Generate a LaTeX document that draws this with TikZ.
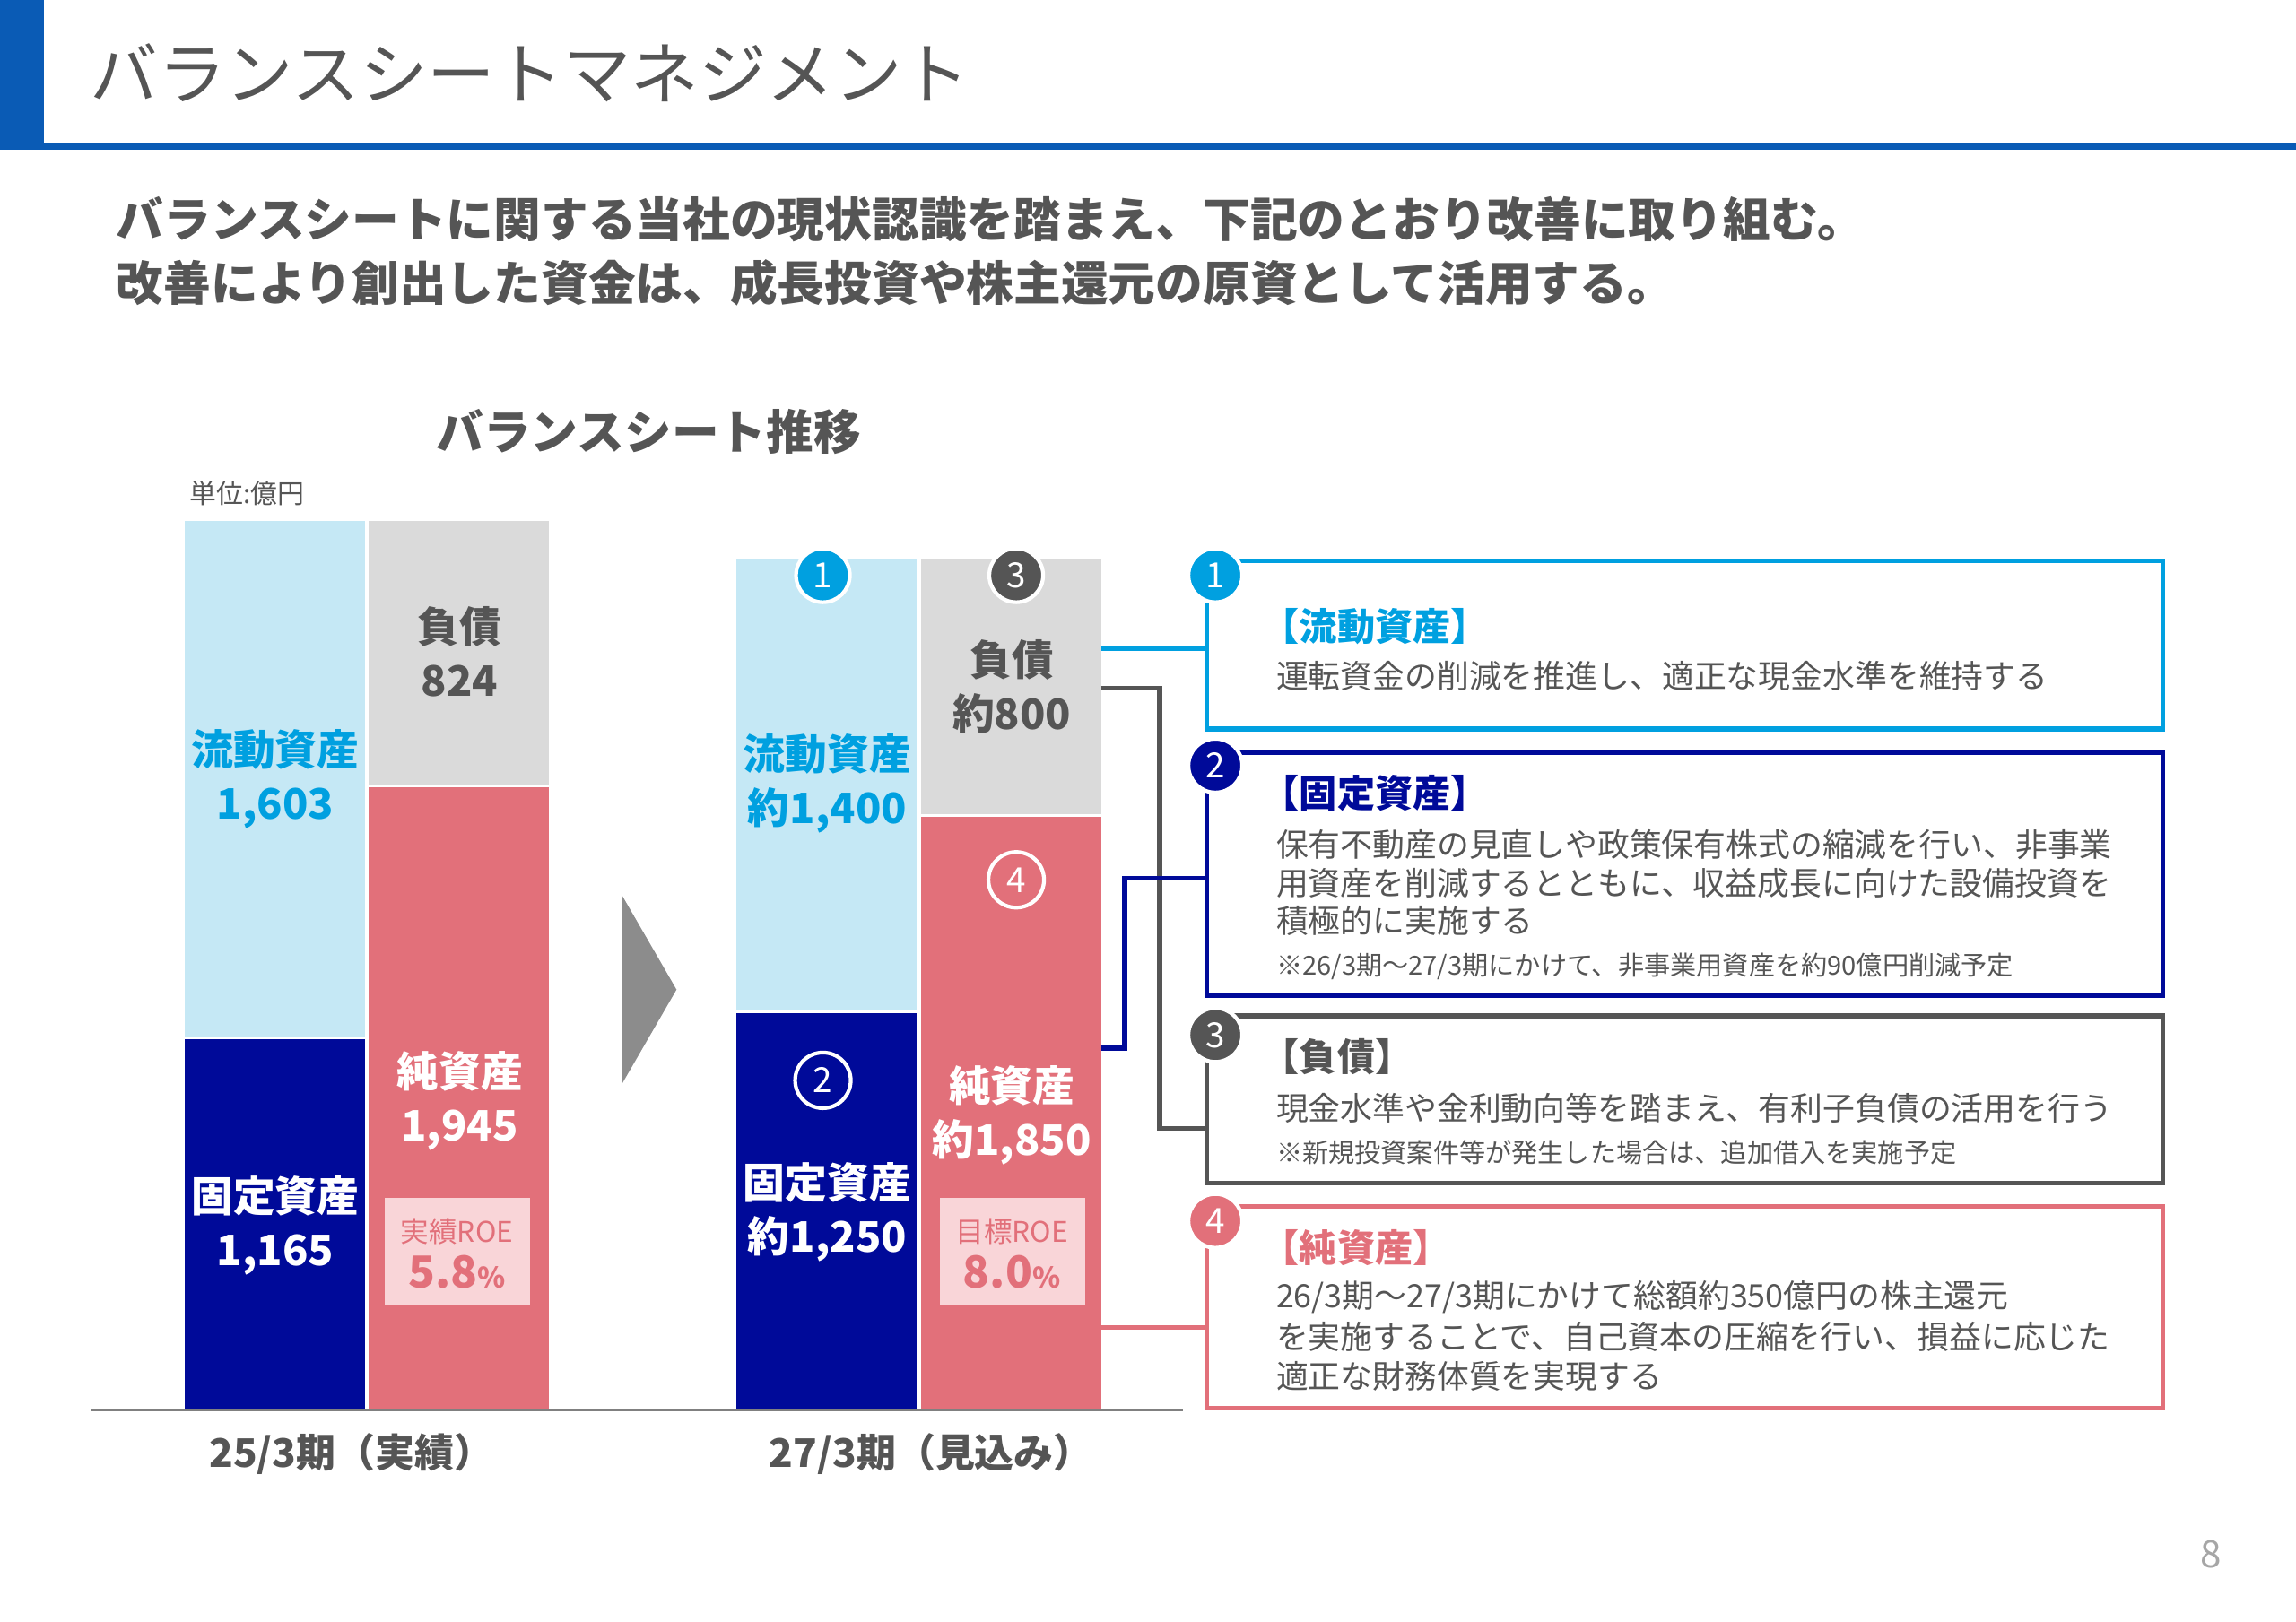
\documentclass[tikz,border=0pt]{standalone}
\usepackage{fontspec}
\setmainfont{Noto Sans CJK JP}
\usetikzlibrary{positioning}
\definecolor{cyanA}{HTML}{00A0E0}
\definecolor{lblue}{HTML}{C5E8F5}
\definecolor{navyA}{HTML}{000A99}
\definecolor{lgray}{HTML}{DADADA}
\definecolor{redA}{HTML}{E2707A}
\definecolor{pinkA}{HTML}{F9D5D8}
\definecolor{dgray}{HTML}{555555}
\definecolor{titleblue}{HTML}{0A5BB5}
\tikzset{
  barlabel/.style={font=\fontsize{13.3}{17}\selectfont\bfseries, align=center},
  boxtitle/.style={anchor=west, font=\fontsize{12}{14}\selectfont\bfseries},
  boxbody/.style={anchor=west, font=\fontsize{10.2}{12}\selectfont, text=dgray},
  boxnote/.style={anchor=west, font=\fontsize{8.3}{10}\selectfont, text=dgray},
  numfill/.style={circle, fill=#1, draw=white, line width=1.2pt, text=white, minimum size=0.6cm, inner sep=0pt, font=\fontsize{11}{12}\selectfont},
  numring/.style={circle, draw=white, line width=1.2pt, text=white, minimum size=0.62cm, inner sep=0pt, font=\fontsize{11}{12}\selectfont},
}
\begin{document}
\begin{tikzpicture}[x=0.016327cm, y=-0.016327cm]
  \useasboundingbox (0,0) rectangle (1568,1108);
  % header
  \fill[titleblue] (0,0) rectangle (30,100);
  \fill[titleblue] (0,98) rectangle (1568,102);
  \node[anchor=west, font=\fontsize{21.5}{26}\selectfont, text=dgray] (title) at (54,50) {バランスシートマネジメント};
  \node[anchor=west, font=\fontsize{15}{19}\selectfont\bfseries, text=dgray] (sub1) at (72,150) {バランスシートに関する当社の現状認識を踏まえ、下記のとおり改善に取り組む。};
  \node[anchor=west, font=\fontsize{15}{19}\selectfont\bfseries, text=dgray] (sub2) at (72,193) {改善により創出した資金は、成長投資や株主還元の原資として活用する。};
  \node[font=\fontsize{15}{18}\selectfont\bfseries, text=dgray] (charttitle) at (443,295) {バランスシート推移};
  \node[anchor=west, font=\fontsize{8.5}{10}\selectfont, text=dgray] (unit) at (122,337) {単位:億円};

  % 25/3 bars
  \fill[lblue] (126,356) rectangle (249,708);
  \fill[navyA] (126,710) rectangle (249,963);
  \fill[lgray] (252,356) rectangle (375,536);
  \fill[redA] (252,538) rectangle (375,963);
  \node[barlabel, text=cyanA] (ca1) at (188,532) {流動資産\\1,603};
  \node[barlabel, text=dgray] (li1) at (314,445) {負債\\824};
  \node[barlabel, text=white] (na1) at (314,752) {純資産\\1,945};
  \node[barlabel, text=white] (fa1) at (188,837) {固定資産\\1,165};
  \fill[pinkA] (263,818) rectangle (362,892);
  \node[text=redA, font=\fontsize{9}{10}\selectfont] (roe1) at (312,841) {実績ROE};
  \node[text=redA, font=\fontsize{14}{16}\selectfont\bfseries] (roev1) at (312,869) {5.8\fontsize{9}{10}\selectfont\%};

  % arrow
  \fill[gray!90] (425,612) -- (462,676) -- (425,740) -- cycle;

  % 27/3 bars
  \fill[lblue] (503,382) rectangle (626,690);
  \fill[navyA] (503,692) rectangle (626,963);
  \fill[lgray] (629,382) rectangle (752,556);
  \fill[redA] (629,558) rectangle (752,963);
  \node[barlabel, text=cyanA] (ca2) at (565,535) {流動資産\\約1,400};
  \node[barlabel, text=dgray] (li2) at (691,469) {負債\\約800};
  \node[barlabel, text=white] (na2) at (691,762) {純資産\\約1,850};
  \node[barlabel, text=white] (fa2) at (565,828) {固定資産\\約1,250};
  \fill[pinkA] (642,818) rectangle (741,892);
  \node[text=redA, font=\fontsize{9}{10}\selectfont] (roe2) at (691,841) {目標ROE};
  \node[text=redA, font=\fontsize{14}{16}\selectfont\bfseries] (roev2) at (691,869) {8.0\fontsize{9}{10}\selectfont\%};
  \node[numfill=cyanA] (c1) at (562,393) {1};
  \node[numfill=dgray] (c3) at (694,393) {3};
  \node[numring] (c4) at (694,601) {4};
  \node[numring] (c2) at (562,738) {2};

  \draw[gray, line width=0.8pt] (62,963) -- (808,963);
  \node[font=\fontsize{12.5}{15}\selectfont\bfseries, text=dgray] (lab1) at (240,993) {25/3期（実績）};
  \node[font=\fontsize{12.5}{15}\selectfont\bfseries, text=dgray] (lab2) at (636,993) {27/3期（見込み）};

  % boxes
  \draw[cyanA, line width=1.5pt] (824,383) rectangle (1477,498);
  \draw[navyA, line width=1.5pt] (824,514) rectangle (1477,680);
  \draw[dgray, line width=1.5pt] (824,694) rectangle (1477,808);
  \draw[redA, line width=1.5pt] (824,824) rectangle (1477,962);
  \node[numfill=cyanA] (k1) at (830,393) {1};
  \node[numfill=navyA] (k2) at (830,523) {2};
  \node[numfill=dgray] (k3) at (830,707) {3};
  \node[numfill=redA] (k4) at (830,834) {4};

  \node[boxtitle, text=cyanA] (t1) at (854,428) {【流動資産】};
  \node[boxbody] at (864,462) {運転資金の削減を推進し、適正な現金水準を維持する};
  \node[boxtitle, text=navyA] (t2) at (854,542) {【固定資産】};
  \node[boxbody] at (864,577) {保有不動産の見直しや政策保有株式の縮減を行い、非事業};
  \node[boxbody] at (864,603) {用資産を削減するとともに、収益成長に向けた設備投資を};
  \node[boxbody] at (864,629) {積極的に実施する};
  \node[boxnote] at (864,660) {※26/3期～27/3期にかけて、非事業用資産を約90億円削減予定};
  \node[boxtitle, text=dgray] (t3) at (854,722) {【負債】};
  \node[boxbody] at (864,757) {現金水準や金利動向等を踏まえ、有利子負債の活用を行う};
  \node[boxnote] at (864,787) {※新規投資案件等が発生した場合は、追加借入を実施予定};
  \node[boxtitle, text=redA] (t4) at (854,852) {【純資産】};
  \node[boxbody] at (864,886) {26/3期～27/3期にかけて総額約350億円の株主還元};
  \node[boxbody] at (864,913) {を実施することで、自己資本の圧縮を行い、損益に応じた};
  \node[boxbody] at (864,940) {適正な財務体質を実現する};

  % connectors
  \coordinate (e1) at (824,443); \coordinate (e2) at (824,600);
  \coordinate (e3) at (824,771); \coordinate (e4) at (824,907);
  \draw[cyanA, line width=1.5pt] (752,443) -- (e1);
  \draw[dgray, line width=1.5pt] (752,470) -- (792,470) |- (e3);
  \draw[navyA, line width=1.5pt] (752,716) -- (768,716) |- (e2);
  \draw[redA, line width=1.5pt] (752,907) -- (e4);

  \node[text=gray!70, font=\fontsize{12}{14}\selectfont] (page) at (1510,1062) {8};
\end{tikzpicture}
\end{document}
